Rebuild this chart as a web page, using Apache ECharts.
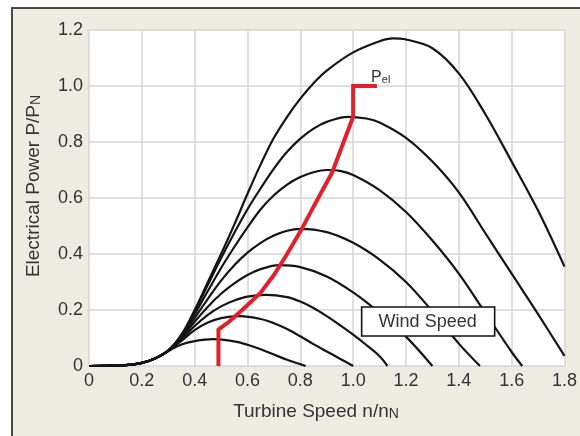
<!DOCTYPE html>
<html><head><meta charset="utf-8">
<script src="https://cdn.jsdelivr.net/npm/echarts@6/dist/echarts.min.js"></script>
<style>
html,body{margin:0;padding:0;background:#fff;}
#wrap{position:relative;width:580px;height:436px;overflow:hidden;}
#frame{position:absolute;left:11px;top:7px;width:620px;height:480px;background:#eeebe3;border-left:2px solid #4a4a4a;border-top:2px solid #4a4a4a;}
#chart{position:absolute;left:0;top:0;width:580px;height:436px;}
</style></head>
<body><div id="wrap"><div id="frame"></div><div id="chart"></div></div>
<script>
// ---- data ----
const xMin = 0, xMax = 1.8, xStep = 0.2;
const yMin = 0, yMax = 1.2, yStep = 0.2;
const base = [[0,0],[0.1,0.001],[0.15,0.004],[0.2,0.011],[0.25,0.027],[0.3,0.055]];
const windCurve1 = [[0,0],[0.1,0.001],[0.15,0.004],[0.2,0.011],[0.25,0.027],[0.3,0.053],[0.35,0.077],[0.4,0.089],[0.47,0.096],[0.55,0.088],[0.6,0.076],[0.65,0.06],[0.7,0.041],[0.75,0.022],[0.82,0]];
const windCurve2 = [[0.35,0.09],[0.4,0.128],[0.45,0.155],[0.5,0.171],[0.57,0.178],[0.65,0.168],[0.7,0.153],[0.75,0.132],[0.8,0.106],[0.85,0.078],[0.9,0.052],[0.95,0.026],[1.0,0]];
const windCurve3 = [[0.35,0.095],[0.4,0.143],[0.45,0.183],[0.5,0.213],[0.55,0.234],[0.6,0.248],[0.67,0.254],[0.75,0.246],[0.8,0.23],[0.85,0.207],[0.9,0.178],[0.95,0.146],[1.0,0.112],[1.05,0.075],[1.1,0.035],[1.13,0]];
const windCurve4 = [[0.35,0.1],[0.4,0.158],[0.45,0.212],[0.5,0.258],[0.55,0.295],[0.6,0.325],[0.65,0.346],[0.72,0.36],[0.8,0.353],[0.9,0.32],[1.0,0.263],[1.1,0.19],[1.2,0.105],[1.3,0]];
const windCurve5 = [[0.35,0.105],[0.4,0.172],[0.45,0.24],[0.5,0.305],[0.55,0.36],[0.6,0.405],[0.65,0.44],[0.7,0.466],[0.75,0.483],[0.8,0.49],[0.9,0.478],[1.0,0.44],[1.1,0.38],[1.2,0.3],[1.3,0.195],[1.4,0.08],[1.48,0]];
const windCurve6 = [[0.35,0.108],[0.4,0.185],[0.45,0.268],[0.5,0.35],[0.55,0.425],[0.6,0.495],[0.65,0.56],[0.7,0.61],[0.75,0.648],[0.8,0.675],[0.85,0.692],[0.9,0.70],[0.95,0.697],[1.0,0.682],[1.1,0.628],[1.2,0.55],[1.3,0.448],[1.4,0.33],[1.5,0.19],[1.6,0.05],[1.64,0]];
const windCurve7 = [[0.35,0.11],[0.4,0.195],[0.45,0.29],[0.5,0.385],[0.55,0.475],[0.6,0.56],[0.65,0.635],[0.7,0.705],[0.75,0.765],[0.8,0.812],[0.85,0.848],[0.9,0.872],[0.98,0.89],[1.05,0.884],[1.1,0.87],[1.2,0.815],[1.3,0.73],[1.4,0.62],[1.5,0.475],[1.6,0.33],[1.7,0.185],[1.8,0.036]];
const windCurve8 = [[0.35,0.112],[0.4,0.2],[0.45,0.3],[0.5,0.4],[0.55,0.505],[0.6,0.615],[0.65,0.72],[0.7,0.815],[0.75,0.89],[0.8,0.955],[0.85,1.01],[0.9,1.055],[1.0,1.12],[1.1,1.16],[1.15,1.17],[1.2,1.166],[1.3,1.135],[1.4,1.045],[1.5,0.9],[1.6,0.73],[1.7,0.555],[1.8,0.355]];
const pelLine = [[0.49,0],[0.49,0.13],[0.53,0.158],[0.58,0.2],[0.65,0.262],[0.7,0.325],[0.75,0.4],[0.8,0.48],[0.865,0.595],[0.92,0.69],[1.0,0.89],[1.0,1.0],[1.09,1.0]];
const pelLabelAt = [1.068, 1.03];
const windLabelAt = [1.282, 0.159];
const xTitle = ['Turbine Speed n/n', 'N'];
const yTitle = ['Electrical Power P/P', 'N'];

const FONT = '"Liberation Sans", Arial, Helvetica, sans-serif';
const TXT = '#333';
const chart = echarts.init(document.getElementById('chart'), null, {renderer: 'canvas'});
const fmt = v => (Math.abs(v) < 1e-9 ? '0' : v.toFixed(1));
const windSeries = [windCurve1, base.concat(windCurve2), base.concat(windCurve3), base.concat(windCurve4),
  base.concat(windCurve5), base.concat(windCurve6), base.concat(windCurve7), base.concat(windCurve8)].map((d, i) => ({
  type: 'line', name: 'v' + (i + 1), data: d, smooth: 0.35, symbol: 'none',
  lineStyle: {color: '#141414', width: 2.2}, z: 3, silent: true, animation: false
}));

chart.setOption({
  animation: false,
  backgroundColor: 'transparent',
  grid: {left: 89, right: 15, top: 30, bottom: 70, show: true, backgroundColor: '#ffffff', borderWidth: 0},
  xAxis: {type: 'value', min: xMin, max: xMax, interval: xStep,
    axisLine: {show: false}, axisTick: {show: false},
    axisLabel: {formatter: fmt, fontSize: 18, fontFamily: FONT, color: TXT, margin: 6},
    splitLine: {show: true, lineStyle: {color: '#d4d4d4', width: 1.5}}},
  yAxis: {type: 'value', min: yMin, max: yMax, interval: yStep,
    axisLine: {show: false}, axisTick: {show: false},
    axisLabel: {formatter: fmt, fontSize: 18, fontFamily: FONT, color: TXT, margin: 6},
    splitLine: {show: true, lineStyle: {color: '#d4d4d4', width: 1.5}}},
  series: windSeries.concat([{
    type: 'line', name: 'Pel', data: pelLine, smooth: false, symbol: 'none',
    lineStyle: {color: '#e2202c', width: 4, join: 'miter'}, z: 5, silent: true
  }])
});

const pPel = chart.convertToPixel({gridIndex: 0}, pelLabelAt);
const pWind = chart.convertToPixel({gridIndex: 0}, windLabelAt);
chart.setOption({
  graphic: [
    {type: 'text', x: pPel[0], y: pPel[1], z: 100, style: {
      text: '{a|P}{b|el}', align: 'left', verticalAlign: 'middle',
      rich: {a: {fontSize: 16, fontFamily: FONT, fill: TXT, color: TXT, lineHeight: 16, verticalAlign: 'top'},
             b: {fontSize: 11, fontFamily: FONT, fill: TXT, color: TXT, lineHeight: 11, padding: [6, 0, 0, 0], verticalAlign: 'bottom'}}}},
    {type: 'rect', x: pWind[0] - 66, y: pWind[1] - 14.5, z: 100, shape: {width: 133, height: 29},
      style: {fill: '#ffffff', stroke: '#111', lineWidth: 1.6}},
    {type: 'text', x: pWind[0], y: pWind[1] + 1, z: 101, style: {
      text: 'Wind Speed', fontSize: 18, fontFamily: FONT, fill: TXT, align: 'center', verticalAlign: 'middle'}},
    {type: 'text', x: 316, y: 412, z: 100, style: {
      text: '{a|' + xTitle[0] + '}{b|' + xTitle[1] + '}', align: 'center', verticalAlign: 'middle',
      rich: {a: {fontSize: 19, fontFamily: FONT, fill: TXT, color: TXT, lineHeight: 19, verticalAlign: 'top'},
             b: {fontSize: 14, fontFamily: FONT, fill: TXT, color: TXT, lineHeight: 14, padding: [10, 0, 0, 0], verticalAlign: 'bottom'}}}},
    {type: 'text', x: 34, y: 186, rotation: Math.PI / 2, z: 100, style: {
      text: '{a|' + yTitle[0] + '}{b|' + yTitle[1] + '}', align: 'center', verticalAlign: 'middle',
      rich: {a: {fontSize: 19, fontFamily: FONT, fill: TXT, color: TXT, lineHeight: 19, verticalAlign: 'top'},
             b: {fontSize: 14, fontFamily: FONT, fill: TXT, color: TXT, lineHeight: 14, padding: [10, 0, 0, 0], verticalAlign: 'bottom'}}}}
  ]
});
</script></body></html>
